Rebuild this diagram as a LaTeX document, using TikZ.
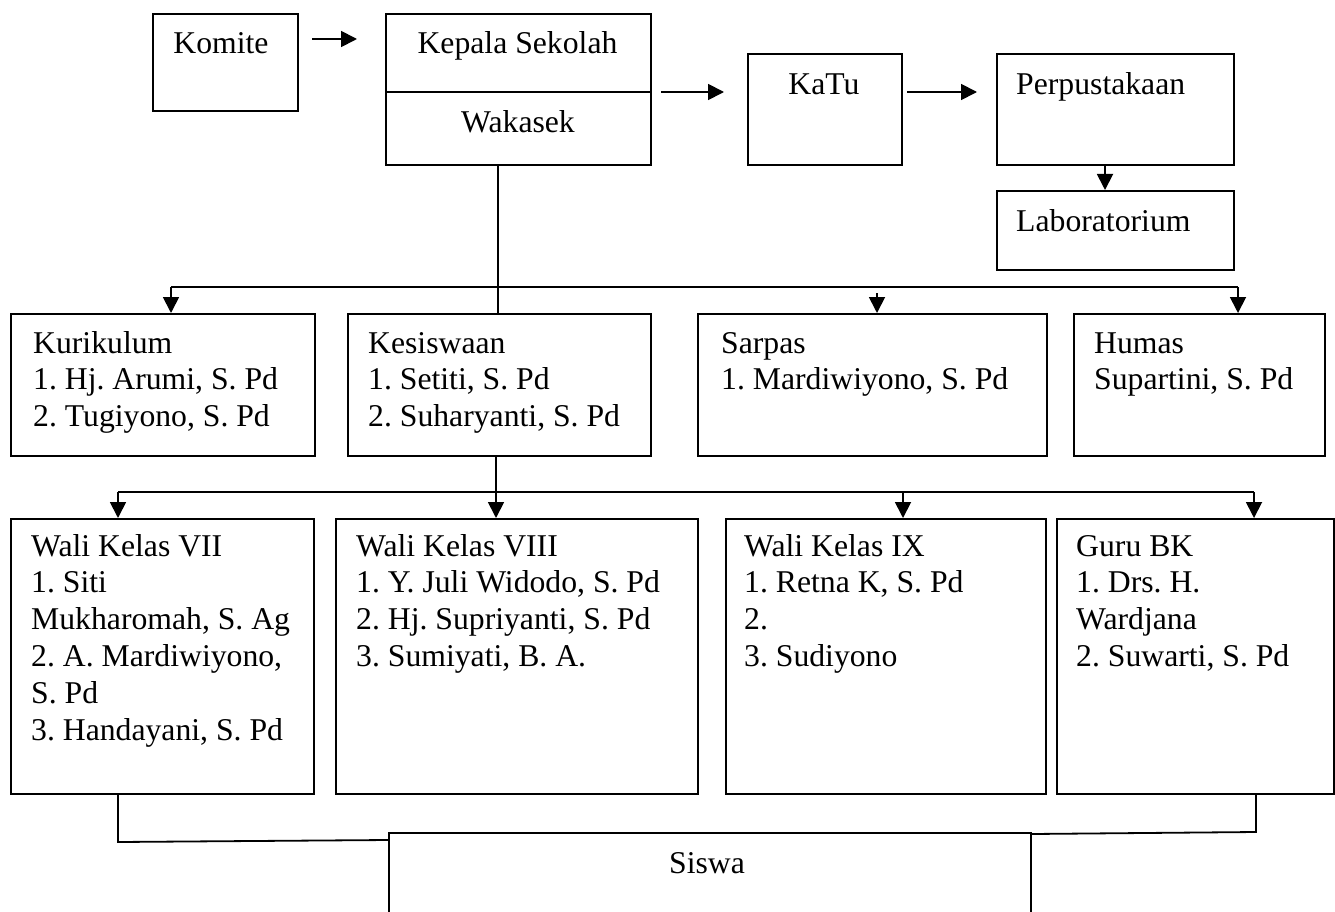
\documentclass[tikz,border=0pt]{standalone}
\usepackage{fontspec}
\setmainfont{Liberation Serif}
\usetikzlibrary{arrows.meta,calc}
\tikzset{
  box/.style={draw, line width=1.8pt, inner sep=0pt, anchor=north west},
  txt/.style={inner sep=0pt, anchor=base west, font=\fontsize{31.7}{36.8}\selectfont\frenchspacing},
  ctxt/.style={txt, anchor=base},
  conn/.style={line width=1.8pt},
  arr/.style={conn, -{Triangle[length=16pt,width=16pt]}}
}
\begin{document}
\begin{tikzpicture}[x=1pt,y=-1pt]
\clip (0,0) rectangle (1335,912);
\fill[white] (0,0) rectangle (1335,912);
% boxes
\node[box, minimum width=145pt, minimum height=97pt] (komite) at (152,13) {};
\node[box, minimum width=265pt, minimum height=78pt] (kepala) at (385,13) {};
\node[box, minimum width=265pt, minimum height=73pt] (wak) at (385,91) {};
\node[box, minimum width=154pt, minimum height=111pt] (katu) at (747,53) {};
\node[box, minimum width=237pt, minimum height=111pt] (perpus) at (996,53) {};
\node[box, minimum width=237pt, minimum height=79pt] (lab) at (996,190) {};
\node[box, minimum width=304pt, minimum height=142pt] (kur) at (10,313) {};
\node[box, minimum width=303pt, minimum height=142pt] (kes) at (347,313) {};
\node[box, minimum width=349pt, minimum height=142pt] (sarpas) at (697,313) {};
\node[box, minimum width=251pt, minimum height=142pt] (humas) at (1073,313) {};
\node[box, minimum width=303pt, minimum height=275pt] (w7) at (10,518) {};
\node[box, minimum width=362pt, minimum height=275pt] (w8) at (335,518) {};
\node[box, minimum width=320pt, minimum height=275pt] (w9) at (725,518) {};
\node[box, minimum width=277pt, minimum height=275pt] (bk) at (1056,518) {};
\node[box, minimum width=642pt, minimum height=110pt] (siswa) at (388,832) {};
% texts
\node[ctxt] (tkomite) at (221,54) {Komite};
\node[ctxt] (tkepala) at (517.5,54) {Kepala Sekolah};
\node[ctxt] (twak) at (518,133) {Wakasek};
\node[ctxt] (tkatu) at (824,95) {KaTu};
\node[txt] (tperpus) at (1016,95) {Perpustakaan};
\node[txt] (tlab) at (1016,231) {Laboratorium};
\node[txt] (tkur) at (33,353) {\begin{tabular}[t]{@{}l@{}}Kurikulum\\1. Hj. Arumi, S. Pd\\2. Tugiyono, S. Pd\end{tabular}};
\node[txt] (tkes) at (368,353) {\begin{tabular}[t]{@{}l@{}}Kesiswaan\\1. Setiti, S. Pd\\2. Suharyanti, S. Pd\end{tabular}};
\node[txt] (tsarpas) at (721,353) {\begin{tabular}[t]{@{}l@{}}Sarpas\\1. Mardiwiyono, S. Pd\end{tabular}};
\node[txt] (thumas) at (1094,353) {\begin{tabular}[t]{@{}l@{}}Humas\\Supartini, S. Pd\end{tabular}};
\node[txt] (tw7) at (31,556) {\begin{tabular}[t]{@{}l@{}}Wali Kelas VII\\1. Siti\\Mukharomah, S. Ag\\2. A. Mardiwiyono,\\S. Pd\\3. Handayani, S. Pd\end{tabular}};
\node[txt] (tw8) at (356,556) {\begin{tabular}[t]{@{}l@{}}Wali Kelas VIII\\1. Y. Juli Widodo, S. Pd\\2. Hj. Supriyanti, S. Pd\\3. Sumiyati, B. A.\end{tabular}};
\node[txt] (tw9) at (744,556) {\begin{tabular}[t]{@{}l@{}}Wali Kelas IX\\1. Retna K, S. Pd\\2.\\3. Sudiyono\end{tabular}};
\node[txt] (tbk) at (1076,556) {\begin{tabular}[t]{@{}l@{}}Guru BK\\1. Drs. H.\\Wardjana\\2. Suwarti, S. Pd\end{tabular}};
\node[ctxt] (tsiswa) at (707,873) {Siswa};
% top arrows
\coordinate (a1s) at (312,39); \coordinate (a1e) at (357,39);
\draw[arr] (a1s) -- (a1e);
\coordinate (a2s) at (661,92); \coordinate (a2e) at (724,92);
\draw[arr] (a2s) -- (a2e);
\coordinate (a3s) at (907,92); \coordinate (a3e) at (977,92);
\draw[arr] (a3s) -- (a3e);
\coordinate (pl) at (1105,0);
\draw[arr] (perpus.south -| pl) -- (lab.north -| pl);
% first branch
\coordinate (j1) at (498,287);
\coordinate (jl) at (171,287);
\coordinate (jr) at (1238,287);
\coordinate (js) at (877,293);
\draw[conn] (wak.south -| j1) -- (kes.north -| j1);
\draw[conn] (jl) -- (jr);
\draw[arr] (jl) -- (jl |- kur.north);
\draw[arr] (jr) -- (jr |- humas.north);
\draw[arr] (js) -- (js |- sarpas.north);
% second branch
\coordinate (k1) at (118,492);
\coordinate (k2) at (496,492);
\coordinate (k3) at (903,492);
\coordinate (k4) at (1254,492);
\draw[conn] (k1) -- (k4);
\draw[arr] (kes.south -| k2) -- (k2 |- w8.north);
\draw[arr] (k1) -- (k1 |- w7.north);
\draw[arr] (k3) -- (k3 |- w9.north);
\draw[arr] (k4) -- (k4 |- bk.north);
% to siswa
\coordinate (b1) at (118,842);
\coordinate (b2) at (1256,832);
\draw[conn] (w7.south -| b1) -- (b1) -- ([yshift=-8pt]siswa.north west);
\draw[conn] (bk.south -| b2) -- (b2) -- ([yshift=-2pt]siswa.north east);
\end{tikzpicture}
\end{document}
